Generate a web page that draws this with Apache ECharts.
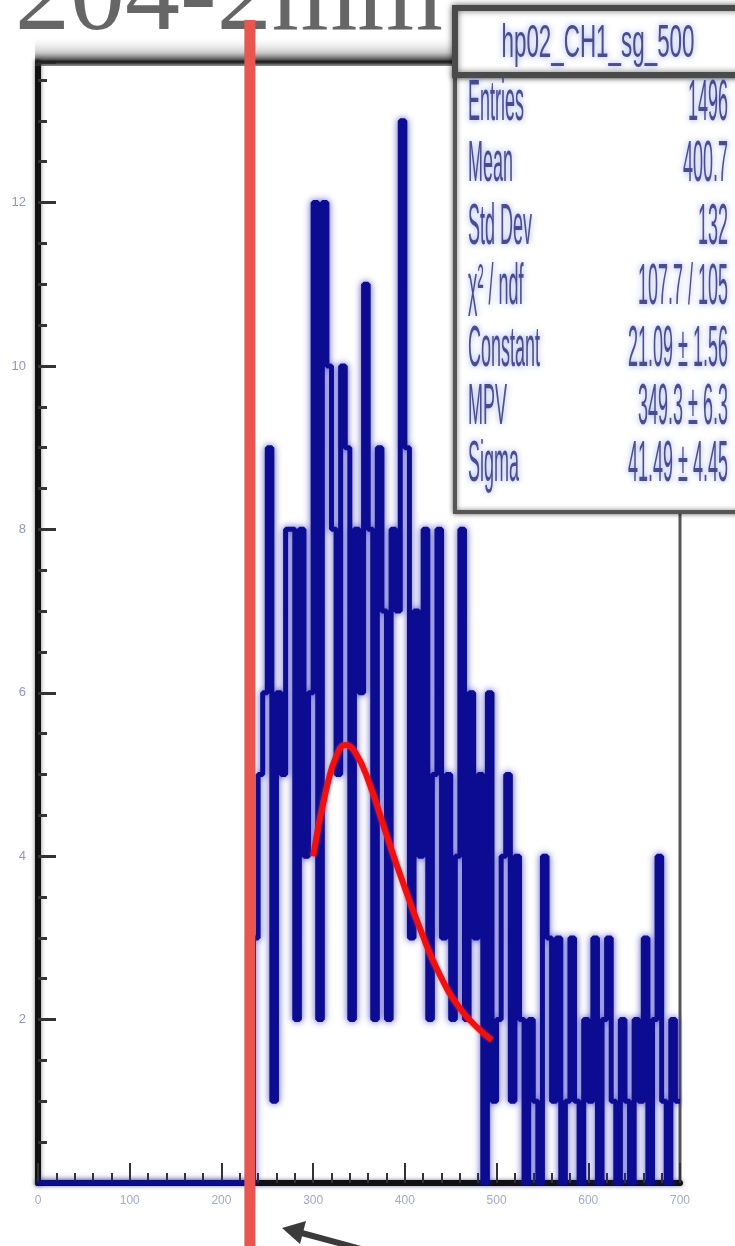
<!DOCTYPE html>
<html>
<head>
<meta charset="utf-8">
<script src="https://cdn.jsdelivr.net/npm/echarts@6/dist/echarts.min.js"></script>
<style>
html,body{margin:0;padding:0;background:#fff;}
#chart{width:735px;height:1246px;}
</style>
</head>
<body>
<div id="chart"></div>
<script>
// ---- data ----
const titleText = '204-2mm';
const histName = 'hp02_CH1_sg_500';
const binWidth = 5;
const firstBin = 235;
const counts = [3,5,6,9,1,6,5,8,8,2,8,4,6,12,2,12,10,8,5,10,9,2,8,6,11,8,2,9,7,2,8,7,13,9,3,7,4,8,2,5,8,3,5,2,4,8,2,6,3,5,
  0,6,1,2,4,5,1,4,2,0,2,1,0,4,3,1,3,0,1,3,1,0,2,1,3,0,2,3,1,0,2,1,0,2,1,3,0,2,4,1,0,2,1];
const fitX = [300,314,327,335,346,362,378,395,417,438,460,482,495];
const fitY = [4.0,4.8,5.27,5.36,5.27,4.87,4.33,3.77,3.10,2.55,2.14,1.87,1.75];
const statLabels = ['Entries','Mean','Std Dev','\u03c7\u00b2 / ndf','Constant','MPV','Sigma'];
const statValues = ['1496','400.7','132','107.7 / 105','21.09 \u00b1 1.56','349.3 \u00b1 6.3','41.49 \u00b1 4.45'];
const xTicks = [0,100,200,300,400,500,600,700];
const yTickLabels = [2,4,6,8,10,12];
const markerValue = 231;

// ---- build series ----
const histData = [[0,0]];
counts.forEach((c,i)=>histData.push([firstBin + i*binWidth, c]));
histData.push([firstBin + counts.length*binWidth, counts[counts.length-1]]);
const fitData = fitX.map((x,i)=>[x, fitY[i]]);

const chart = echarts.init(document.getElementById('chart'), null, {renderer:'canvas'});
const option = {
  animation:false,
  backgroundColor:'#ffffff',
  grid:{left:38, right:55, top:62, bottom:63, show:true, borderColor:'#555', borderWidth:3, backgroundColor:'transparent'},
  xAxis:{
    type:'value', min:0, max:700, interval:100,
    axisLine:{onZero:false, lineStyle:{color:'#111', width:6, shadowColor:'rgba(40,40,120,0.6)', shadowBlur:4}},
    axisTick:{inside:true, length:20, lineStyle:{color:'#333', width:2}},
    minorTick:{show:true, splitNumber:5, length:10, lineStyle:{color:'#333', width:2}},
    axisLabel:{color:'#a2aac4', fontSize:12, margin:12, formatter:v=>xTicks.includes(v)?String(v):''},
    splitLine:{show:false}
  },
  yAxis:{
    type:'value', min:0, max:13.72, interval:2,
    axisLine:{onZero:false, lineStyle:{color:'#111', width:6, shadowColor:'rgba(0,0,0,0.5)', shadowBlur:4}},
    axisTick:{inside:true, length:18, lineStyle:{color:'#333', width:3}},
    minorTick:{show:true, splitNumber:4, length:9, lineStyle:{color:'#333', width:3}},
    axisLabel:{color:'#8f98bb', fontSize:13, margin:12, showMaxLabel:false, formatter:v=>yTickLabels.includes(v)?String(v):''},
    splitLine:{show:false}
  },
  series:[
    {type:'line', step:'end', data:histData, symbol:'none', z:3,
     lineStyle:{color:'#0c0c92', width:5, shadowColor:'rgba(30,30,190,0.75)', shadowBlur:7}},
    {type:'line', smooth:true, data:fitData, symbol:'none', z:4,
     lineStyle:{color:'#f01010', width:6, shadowColor:'rgba(255,60,60,0.6)', shadowBlur:3}}
  ]
};
chart.setOption(option);

// ---- overlay: stats box, title, annotation ----
const mx = chart.convertToPixel({gridIndex:0}, [markerValue, 0])[0];
const rowY = [104,165,228,288,350,408,465];
const textStyleBase = {fill:'rgba(50,50,125,0.85)', font:'20px "Liberation Sans"', textShadowColor:'rgba(90,120,230,0.8)', textShadowBlur:6};
const g = [];
// top frame blurred band
g.push({type:'rect', shape:{x:35, y:36, width:425, height:30}, z:20, silent:true,
  style:{fill:new echarts.graphic.LinearGradient(0,0,0,1,[{offset:0,color:'rgba(255,255,255,0)'},{offset:0.55,color:'rgba(150,150,150,0.5)'},{offset:0.85,color:'rgba(30,30,30,0.95)'},{offset:1,color:'rgba(60,60,60,0.6)'}])}});
// stats body
g.push({type:'rect', shape:{x:455, y:75, width:300, height:437}, z:30,
  style:{fill:'#fff', stroke:'#555', lineWidth:4, shadowColor:'rgba(0,0,0,0.5)', shadowBlur:5}});
// stats title box
g.push({type:'rect', shape:{x:455, y:8, width:300, height:67}, z:31,
  style:{fill:'#fff', stroke:'#4a4a4a', lineWidth:6, shadowColor:'rgba(0,0,0,0.55)', shadowBlur:6}});
g.push({type:'text', x:598, y:44, z:32, scaleX:1.12, scaleY:2.3,
  style:Object.assign({}, textStyleBase, {text:histName, textAlign:'center', textVerticalAlign:'middle', font:'20px "Liberation Sans"'})});
statLabels.forEach((s,i)=>{
  g.push({type:'text', x:468, y:rowY[i], z:32, scaleX:0.9, scaleY:2.9,
    style:Object.assign({}, textStyleBase, {text:s, textAlign:'left', textVerticalAlign:'middle'})});
  g.push({type:'text', x:728, y:rowY[i], z:32, scaleX:0.9, scaleY:2.9,
    style:Object.assign({}, textStyleBase, {text:statValues[i], textAlign:'right', textVerticalAlign:'middle'})});
});
// big title
g.push({type:'text', x:15, y:0, z:40,
  style:{text:titleText, fill:'#666', font:'110px "Liberation Serif"', textAlign:'left', textVerticalAlign:'middle'}});
// red marker line
g.push({type:'line', shape:{x1:mx, y1:20, x2:mx, y2:1250}, z:50,
  style:{stroke:'#e8564f', lineWidth:11}});
// arrow
g.push({type:'line', shape:{x1:372, y1:1252, x2:298, y2:1232}, z:50, style:{stroke:'#3b3b3b', lineWidth:6}});
g.push({type:'polygon', shape:{points:[[282,1228],[306,1221],[300,1244]]}, z:50, style:{fill:'#3b3b3b'}});
chart.setOption({graphic:g});
</script>
</body>
</html>
